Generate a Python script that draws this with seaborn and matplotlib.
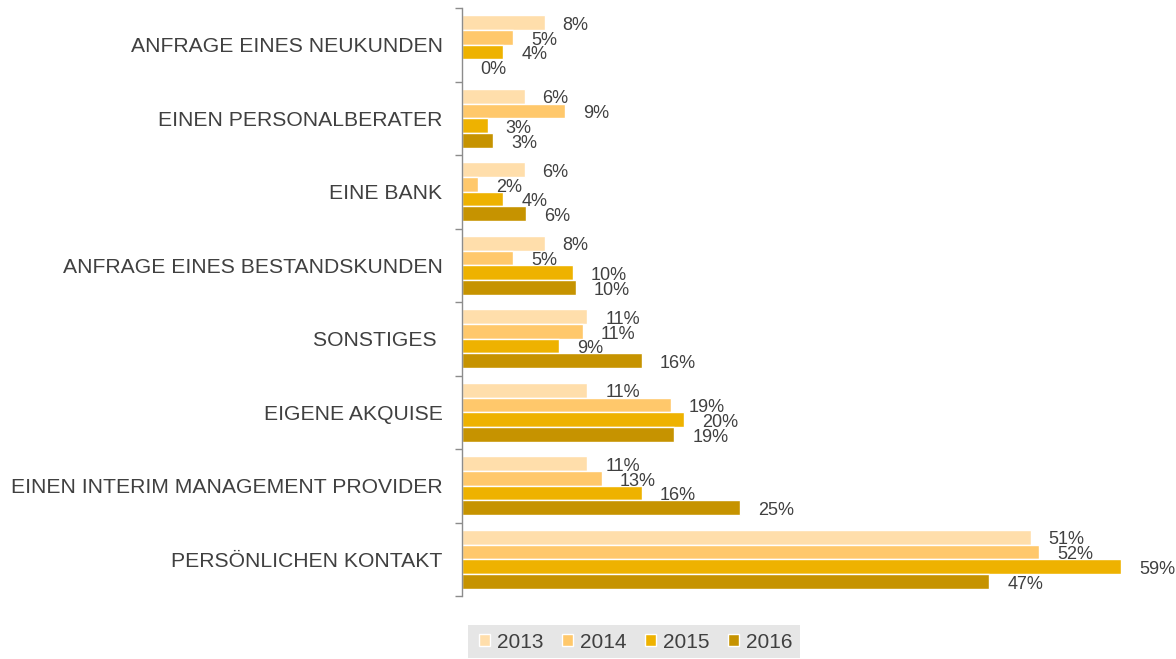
import pandas as pd
import matplotlib.pyplot as plt
import seaborn as sns
from matplotlib.patches import Patch, Rectangle

sns.set_style("white")
plt.rcParams['font.family'] = ['Liberation Sans', 'DejaVu Sans']

# Data (bar lengths, labels as printed)
categories = [
    "ANFRAGE EINES NEUKUNDEN",
    "EINEN PERSONALBERATER",
    "EINE BANK",
    "ANFRAGE EINES BESTANDSKUNDEN",
    "SONSTIGES ",
    "EIGENE AKQUISE",
    "EINEN INTERIM MANAGEMENT PROVIDER",
    "PERSÖNLICHEN KONTAKT",
]
years = ["2013", "2014", "2015", "2016"]
v2013 = [7.4, 5.6, 5.6, 7.4, 11.2, 11.2, 11.2, 50.9]
v2014 = [4.6, 9.2, 1.4, 4.6, 10.8, 18.7, 12.5, 51.7]
v2015 = [3.7, 2.3, 3.7, 9.9, 8.7, 19.9, 16.1, 59.0]
v2016 = [0.0, 2.8, 5.7, 10.2, 16.1, 19.0, 24.9, 47.2]
l2013 = [8, 6, 6, 8, 11, 11, 11, 51]
l2014 = [5, 9, 2, 5, 11, 19, 13, 52]
l2015 = [4, 3, 4, 10, 9, 20, 16, 59]
l2016 = [0, 3, 6, 10, 16, 19, 25, 47]
colors = ["#FFDEAB", "#FFC86B", "#EEB200", "#C69300"]

values = [v2013, v2014, v2015, v2016]
labels = [l2013, l2014, l2015, l2016]

rows = []
for year, vals in zip(years, values):
    for cat, v in zip(categories, vals):
        rows.append({"Kategorie": cat, "Jahr": year, "Anteil": v})
df = pd.DataFrame(rows)

text_color = "#404040"
fig = plt.figure(figsize=(11.76, 6.59), dpi=100)
ax = fig.add_axes([462 / 1176, 1 - 596 / 659, (1121 - 462) / 1176, 588 / 659])

sns.barplot(data=df, y="Kategorie", x="Anteil", hue="Jahr", order=categories,
            hue_order=years, palette=colors, saturation=1, orient="h",
            width=0.8, edgecolor="white", linewidth=1, ax=ax, legend=False)

for cont, labs in zip(ax.containers, labels):
    anns = ax.bar_label(cont, labels=[f"{l}%" for l in labs], padding=13,
                        fontsize=13, color=text_color)
    # labels sit a little below the bar centre in the original
    for a in anns:
        a.xyann = (13, -2)

ax.set_xlim(0, 59.0)
ax.set_ylim(len(categories) - 0.5, -0.5)
ax.set_xlabel("")
ax.set_ylabel("")
ax.set_xticks([])

# category boundaries as ticks on the left spine
ax.set_yticks([i - 0.5 for i in range(len(categories) + 1)], minor=True)
ax.tick_params(axis="y", which="minor", length=5, width=1, color="#8c8c8c",
               direction="out", left=True)
ax.tick_params(axis="y", which="major", length=0, pad=14,
               labelsize=15.25, labelcolor=text_color)

for side in ["top", "right", "bottom"]:
    ax.spines[side].set_visible(False)
ax.spines["left"].set_color("#8c8c8c")
ax.spines["left"].set_linewidth(1)

# grey legend background
fig.patches.append(Rectangle((468 / 1176, 1 - 658 / 659), 332 / 1176, 33 / 659,
                             transform=fig.transFigure, facecolor="#e6e6e6",
                             edgecolor="none", zorder=0))

handles = [Patch(facecolor=c, edgecolor="white", linewidth=1, label=y)
           for c, y in zip(colors, years)]
leg = fig.legend(handles=handles, loc="center", ncol=4,
                 bbox_to_anchor=(636 / 1176, 1 - 642 / 659),
                 frameon=False, fontsize=15,
                 handlelength=0.5, handleheight=0.5, handletextpad=0.35,
                 columnspacing=0.9, borderpad=0.2, borderaxespad=0)
for t in leg.get_texts():
    t.set_color(text_color)

fig.savefig("out.png", dpi=100)
